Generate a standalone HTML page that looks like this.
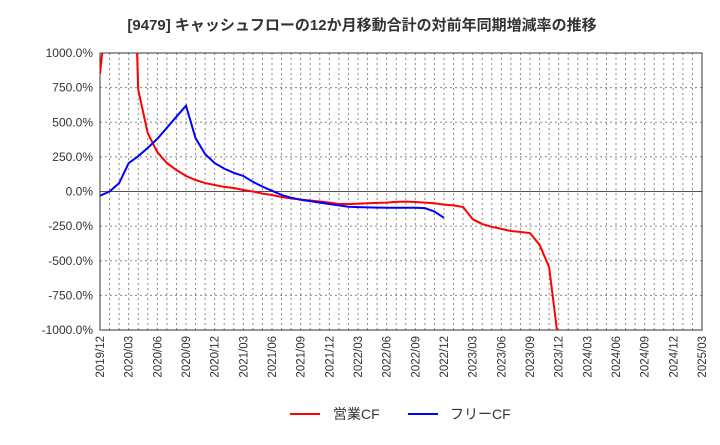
<!DOCTYPE html>
<html><head><meta charset="utf-8"><style>
body{margin:0;background:#fff;font-family:"Liberation Sans","Noto Sans CJK JP",sans-serif}
</style></head><body>
<svg id="c" width="720" height="440" xmlns="http://www.w3.org/2000/svg">
<text x="362" y="30" text-anchor="middle" font-size="15" font-weight="bold" fill="#333" font-family="Liberation Sans, Noto Sans CJK JP, sans-serif">[9479]  キャッシュフローの12か月移動合計の対前年同期増減率の推移</text>
<defs><clipPath id="pc"><rect x="100" y="53" width="602" height="277"/></clipPath></defs>
<g id="grid"></g><g id="axes"></g>
<g id="series" clip-path="url(#pc)"></g>
<g font-size="14" fill="#333">
<line x1="290" y1="414" x2="320" y2="414" stroke="#f00" stroke-width="2"/>
<text x="333" y="419">営業CF</text>
<line x1="408" y1="414" x2="438" y2="414" stroke="#00f" stroke-width="2"/>
<text x="450" y="419">フリーCF</text>
</g>
</svg>
<script>
const yTicks=[1000,750,500,250,0,-250,-500,-750,-1000];
const xLabels=["2019/12","2020/03","2020/06","2020/09","2020/12","2021/03","2021/06","2021/09","2021/12","2022/03","2022/06","2022/09","2022/12","2023/03","2023/06","2023/09","2023/12","2024/03","2024/06","2024/09","2024/12","2025/03"];
const operatingCF=[850,1500,2200,3000,735,420,285,205,155,112,83,61,47,33,25,11,0,-15,-25,-40,-50,-58,-65,-72,-80,-90,-90,-88,-85,-82,-80,-75,-73,-76,-80,-85,-95,-100,-112,-200,-235,-255,-270,-285,-292,-300,-385,-545,-1100];
const freeCF=[-30,0,60,205,255,315,380,460,540,620,385,270,205,165,135,112,70,35,5,-25,-45,-60,-70,-80,-90,-100,-110,-113,-115,-116,-117,-117,-117,-117,-120,-145,-190];
const X0=100,X1=702,Y0=53,Y1=330,NM=63;
const xs=i=>X0+(X1-X0)*i/NM;
const ys=v=>Y0+(Y1-Y0)*(1000-v)/2000;
const NS="http://www.w3.org/2000/svg";
function mk(t,a,p){const e=document.createElementNS(NS,t);for(const k in a)e.setAttribute(k,a[k]);p.appendChild(e);return e;}
const g=document.getElementById('grid'),ax=document.getElementById('axes'),s=document.getElementById('series');
for(let m=1;m<NM;m++){const l=mk('line',{x1:xs(m),x2:xs(m),y1:Y0,y2:Y1,stroke:'#888','stroke-dasharray':'2,3','stroke-width':1},g);

}
yTicks.forEach(v=>{const y=ys(v);
const l=mk('line',{x1:X0,x2:X1,y1:y,y2:y,stroke:v===0?'#555':'#888','stroke-dasharray':v===0?'':'2,3','stroke-width':1},g);


const t=mk('text',{x:X0-7,y:y+4,'text-anchor':'end','font-size':12,fill:'#333'},ax);
t.textContent=v.toFixed(1)+'%';

});
xLabels.forEach((lb,i)=>{const x=xs(i*3);
const t=mk('text',{x:x+4,y:Y1+6,'text-anchor':'end','font-size':11.5,fill:'#333',transform:`rotate(-90 ${x+4} ${Y1+6})`},ax);
t.textContent=lb;

});
const fr=mk('rect',{x:X0,y:Y0,width:X1-X0,height:Y1-Y0,fill:'none',stroke:'#333'},ax);


function line(d,c,n){const p=mk('polyline',{points:d.map((v,i)=>xs(i)+','+ys(v)).join(' '),fill:'none',stroke:c,'stroke-width':2},s);

}
line(operatingCF,'#f00','operating-cf-line');
line(freeCF,'#00f','free-cf-line');
</script>
</body></html>
